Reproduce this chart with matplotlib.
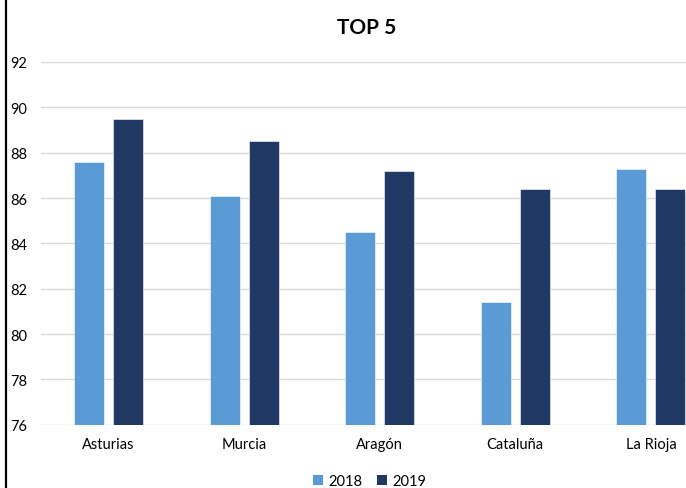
import matplotlib.pyplot as plt
import numpy as np
from matplotlib.lines import Line2D
from matplotlib.patches import Patch

plt.rcParams["font.family"] = ["Lato", "DejaVu Sans"]

categories = ["Asturias", "Murcia", "Aragón", "Cataluña", "La Rioja"]
values_2018 = [87.6, 86.1, 84.5, 81.4, 87.3]
values_2019 = [89.5, 88.5, 87.2, 86.4, 86.4]
series_labels = ["2018", "2019"]
y_ticks = [76, 78, 80, 82, 84, 86, 88, 90, 92]

COLOR_2018 = "#5B9BD5"
COLOR_2019 = "#203864"
GRID = "#D9D9D9"

fig = plt.figure(figsize=(6.86, 4.89), dpi=100)
ax = fig.add_axes([40.7 / 686, 1 - 425.7 / 489, 1 - 40.7 / 686, (425.7 - 63) / 489])

x = np.arange(len(categories))
width = 0.222
offset = 0.144
ax.bar(x - offset, np.array(values_2018) - 76, width, bottom=76,
       color=COLOR_2018, edgecolor="white", linewidth=0.4, zorder=3)
ax.bar(x + offset, np.array(values_2019) - 76, width, bottom=76,
       color=COLOR_2019, edgecolor="white", linewidth=0.4, zorder=3)

ax.set_ylim(76, 92)
ax.set_xlim(-0.5, (686 - 108.5) / 135.6)
ax.set_yticks(y_ticks)
ax.set_yticklabels([str(t) for t in y_ticks], fontsize=10.5, color="#000000")
ax.set_xticks(x)
ax.set_xticklabels(categories, fontsize=10.5, color="#000000")
ax.tick_params(axis="both", length=0)
ax.tick_params(axis="y", pad=10)
ax.tick_params(axis="x", pad=9)
ax.yaxis.grid(True, color=GRID, linewidth=1.0, zorder=0)
for s in ax.spines.values():
    s.set_visible(False)
ax.set_axisbelow(True)

fig.text(367 / 686, 1 - 28 / 489, "TOP 5", ha="center", va="center",
         fontsize=15, fontweight="bold", color="#000000")

handles = [Patch(facecolor=COLOR_2018, label=series_labels[0]),
           Patch(facecolor=COLOR_2019, label=series_labels[1])]
fig.legend(handles=handles, loc="center", bbox_to_anchor=(370 / 686, 1 - 482 / 489),
           ncol=2, frameon=False, fontsize=10.5, handlelength=0.65, handleheight=0.65,
           handletextpad=0.4, columnspacing=1.0)

fig.add_artist(Line2D([6 / 686, 6 / 686], [0, 1], color="black", linewidth=1.6,
                      transform=fig.transFigure))

fig.savefig("out.png", dpi=100)
